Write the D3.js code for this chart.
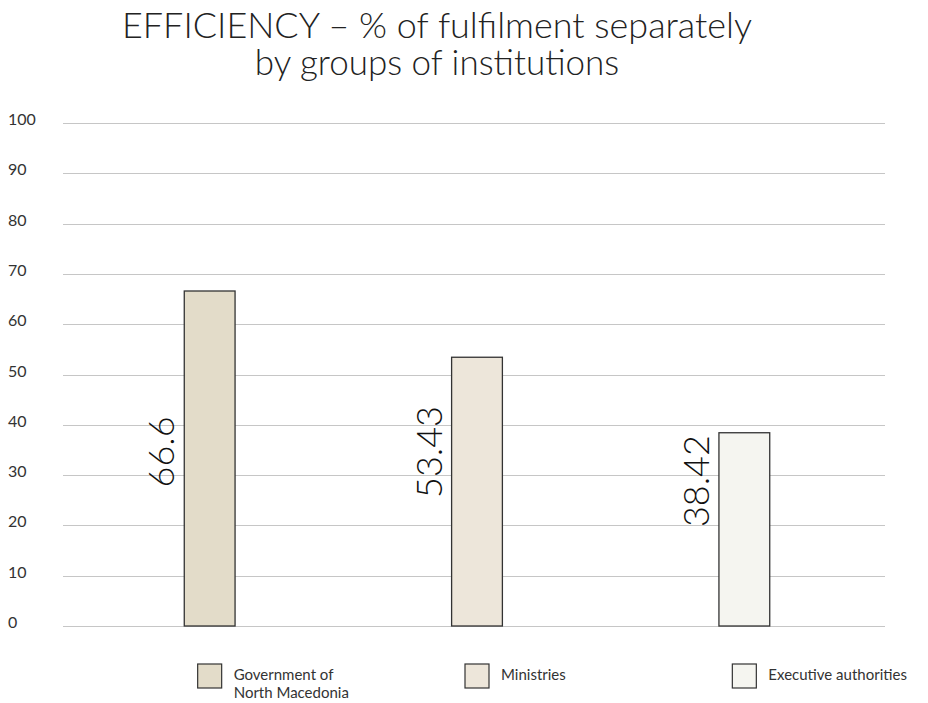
<!DOCTYPE html>
<html>
<head>
<meta charset="utf-8">
<script src="https://cdn.jsdelivr.net/npm/d3@7"></script>
<style>
  html, body { margin: 0; padding: 0; background: #fff; }
  svg { display: block; font-family: Lato, "Open Sans", sans-serif; }
</style>
</head>
<body>
<svg id="chart" width="928" height="703"></svg>
<script>
// ---- data ----
const categories = ["Government of North Macedonia", "Ministries", "Executive authorities"];
const legendLines = [["Government of", "North Macedonia"], ["Ministries"], ["Executive authorities"]];
const values = [66.6, 53.43, 38.42];
const valueLabels = ["66.6", "53.43", "38.42"];
const yTicks = [0, 10, 20, 30, 40, 50, 60, 70, 80, 90, 100];
const titleLines = ["EFFICIENCY – % of fulfilment separately", "by groups of institutions"];

// ---- style / layout ----
const colors = ["#e3dcc9", "#ede6da", "#f5f5f0"];
const labelCenterAt = [34.6, 34.6, 28.8]; // vertical centre of value labels, in axis units

const svg = d3.select("#chart");

const y = d3.scaleLinear().domain([0, 100]).range([626, 123]);
const x = d3.scaleBand().domain(categories).range([76, 878]).paddingInner(0.81).paddingOuter(0.405);

// title
svg.append("g").selectAll("text").data(titleLines).join("text")
  .attr("x", 437).attr("y", (d, i) => 38 + i * 37)
  .attr("text-anchor", "middle")
  .attr("font-size", 35).attr("font-weight", 300).attr("fill", "#222")
  .attr("textLength", (d, i) => i === 0 ? 630 : null)
  .attr("lengthAdjust", "spacingAndGlyphs")
  .text(d => d);

// grid + y labels
const grid = svg.append("g");
grid.selectAll("line").data(yTicks).join("line")
  .attr("x1", 63).attr("x2", 885)
  .attr("y1", d => Math.round(y(d)) + 0.5).attr("y2", d => Math.round(y(d)) + 0.5)
  .attr("stroke", "#c6c6c6").attr("stroke-width", 1);
grid.selectAll("text").data(yTicks).join("text")
  .attr("x", 8).attr("y", d => y(d) - 2)
  .attr("dominant-baseline", "middle")
  .attr("font-size", 16).attr("fill", "#333")
  .text(d => d);

// bars
svg.append("g").selectAll("rect").data(values).join("rect")
  .attr("x", (d, i) => x(categories[i]))
  .attr("y", d => y(d))
  .attr("width", x.bandwidth())
  .attr("height", d => y(0) - y(d))
  .attr("fill", (d, i) => colors[i])
  .attr("stroke", "#333").attr("stroke-width", 1.3);

// value labels (rotated)
svg.append("g").selectAll("text").data(valueLabels).join("text")
  .attr("transform", (d, i) => `translate(${x(categories[i]) - 10},${y(labelCenterAt[i])}) rotate(-90)`)
  .attr("text-anchor", "middle")
  .attr("font-size", 36).attr("font-weight", 300).attr("fill", "#111")
  .text(d => d);

// legend
const leg = svg.append("g").selectAll("g").data(categories).join("g")
  .attr("transform", (d, i) => `translate(${x(d) + x.bandwidth() / 2 - 12},664)`);
leg.append("rect").attr("width", 24).attr("height", 24)
  .attr("fill", (d, i) => colors[i]).attr("stroke", "#333").attr("stroke-width", 1.2);
leg.append("text")
  .attr("x", 36).attr("y", 16)
  .attr("font-size", 15).attr("fill", "#333")
  .selectAll("tspan").data((d, i) => legendLines[i]).join("tspan")
  .attr("x", 36).attr("dy", (d, i) => i === 0 ? 0 : 18)
  .text(d => d);
</script>
</body>
</html>
